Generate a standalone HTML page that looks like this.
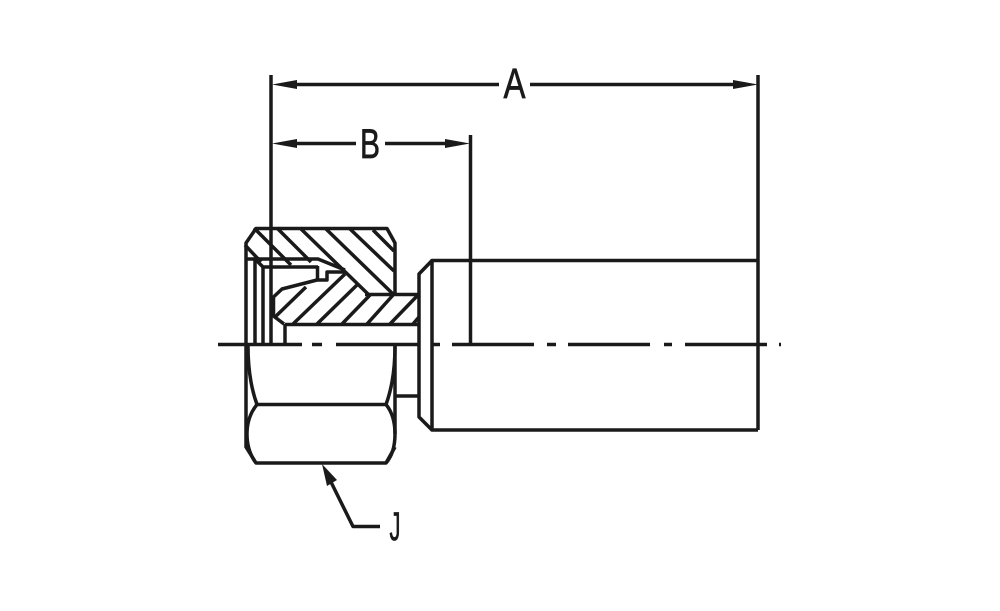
<!DOCTYPE html>
<html>
<head>
<meta charset="utf-8">
<style>
html,body{margin:0;padding:0;background:#fff;width:1000px;height:611px;overflow:hidden}
svg{display:block}
text{font-family:"Liberation Sans",sans-serif;fill:#1a1a1a;stroke:#1a1a1a;stroke-width:.7}
</style>
</head>
<body>
<svg width="1000" height="611" viewBox="0 0 1000 611" xmlns="http://www.w3.org/2000/svg">
<rect width="1000" height="611" fill="#fff"/>
<g fill="none" stroke="#1a1a1a" stroke-width="3.500" stroke-linecap="butt" stroke-linejoin="round">
  <!-- extension lines -->
  <path d="M271 75V345"/>
  <path d="M758 75V430"/>
  <path d="M470.500 135V345"/>
  <!-- dimension lines -->
  <path d="M285 84.500H499"/>
  <path d="M530 84.500H745"/>
  <path d="M285 143.500H356"/>
  <path d="M385 143.500H458"/>
  <!-- tube and flange -->
  <path d="M758 260.500H432V430H758"/>
  <path d="M432 260.500L419 274V417L432 430"/>
  <path d="M396 396H419"/>
  <!-- nut outline -->
  <path d="M246 345V243L256 228.500H387L395 243V294"/>
  <path d="M246 345V447L256 463H386L395 447"/>
  <!-- lower nut -->
  <path d="M248 346C248 368 251 388 257 404.500H386C392 388 395 368 395 346"/>
  <path d="M257 404.500C250 413 247 423 247 434C247 445 250 455 256 463"/>
  <path d="M386 404.500C393 413 395 423 395 434C395 445 393 455 386 463"/>
  <path d="M395 346V434"/>
  <!-- upper inner body -->
  <path d="M365 294.500H419"/>
  <path d="M285 324.500H419"/>
  <path d="M285 324V345"/>
  <path d="M246 259H318L345 270"/>
  <path d="M255 259L263 267H318"/>
  <path d="M255 259V345"/>
  <path d="M263 267V345"/>
  <path d="M317.500 266V280H327V272H345"/>
  <path d="M317 280L282 289L273.500 297V316L284 324"/>
  <!-- hatching: nut -->
  <path d="M245 245L261 262"/>
  <path d="M254 228L291 265"/>
  <path d="M277 228L311 262"/>
  <path d="M300 228L368 294"/>
  <path d="M325 228L393 294"/>
  <path d="M349 228L394 271"/>
  <path d="M373 230L394 251"/>
  <!-- hatching: body -->
  <path d="M274 318L306 287"/>
  <path d="M293 324L345 274"/>
  <path d="M317 324L358 284"/>
  <path d="M342 324L371 294"/>
  <path d="M367 324L394 294"/>
  <path d="M390 324L419 294"/>
  <path d="M413 324L419 317"/>
  <!-- leader -->
  <path d="M329 478L353 526.500H380"/>
</g>
<!-- centre line -->
<g stroke="#1a1a1a" stroke-width="3.500" fill="none">
  <path d="M218 344.500H302M312 344.500H322M336 344.500H418M432 344.500H440M452 344.500H534M547 344.500H556M568 344.500H650M664 344.500H672M685 344.500H767M779 344.500H781"/>
</g>
<!-- arrowheads -->
<g fill="#1a1a1a">
  <path d="M272 84.500L297 80V89Z"/>
  <path d="M758 84.500L733 80V89Z"/>
  <path d="M272 143.500L297 139V148Z"/>
  <path d="M470 143.500L445 139V148Z"/>
  <path d="M322 464L337 480L327 486Z"/>
</g>
<!-- labels -->
<text x="514.500" y="98" font-size="43" text-anchor="middle" textLength="22" lengthAdjust="spacingAndGlyphs">A</text>
<text x="370" y="158" font-size="42" text-anchor="middle" textLength="20" lengthAdjust="spacingAndGlyphs">B</text>
<text x="395" y="540" font-size="40" text-anchor="middle" textLength="11" lengthAdjust="spacingAndGlyphs">J</text>
</svg>
</body>
</html>
